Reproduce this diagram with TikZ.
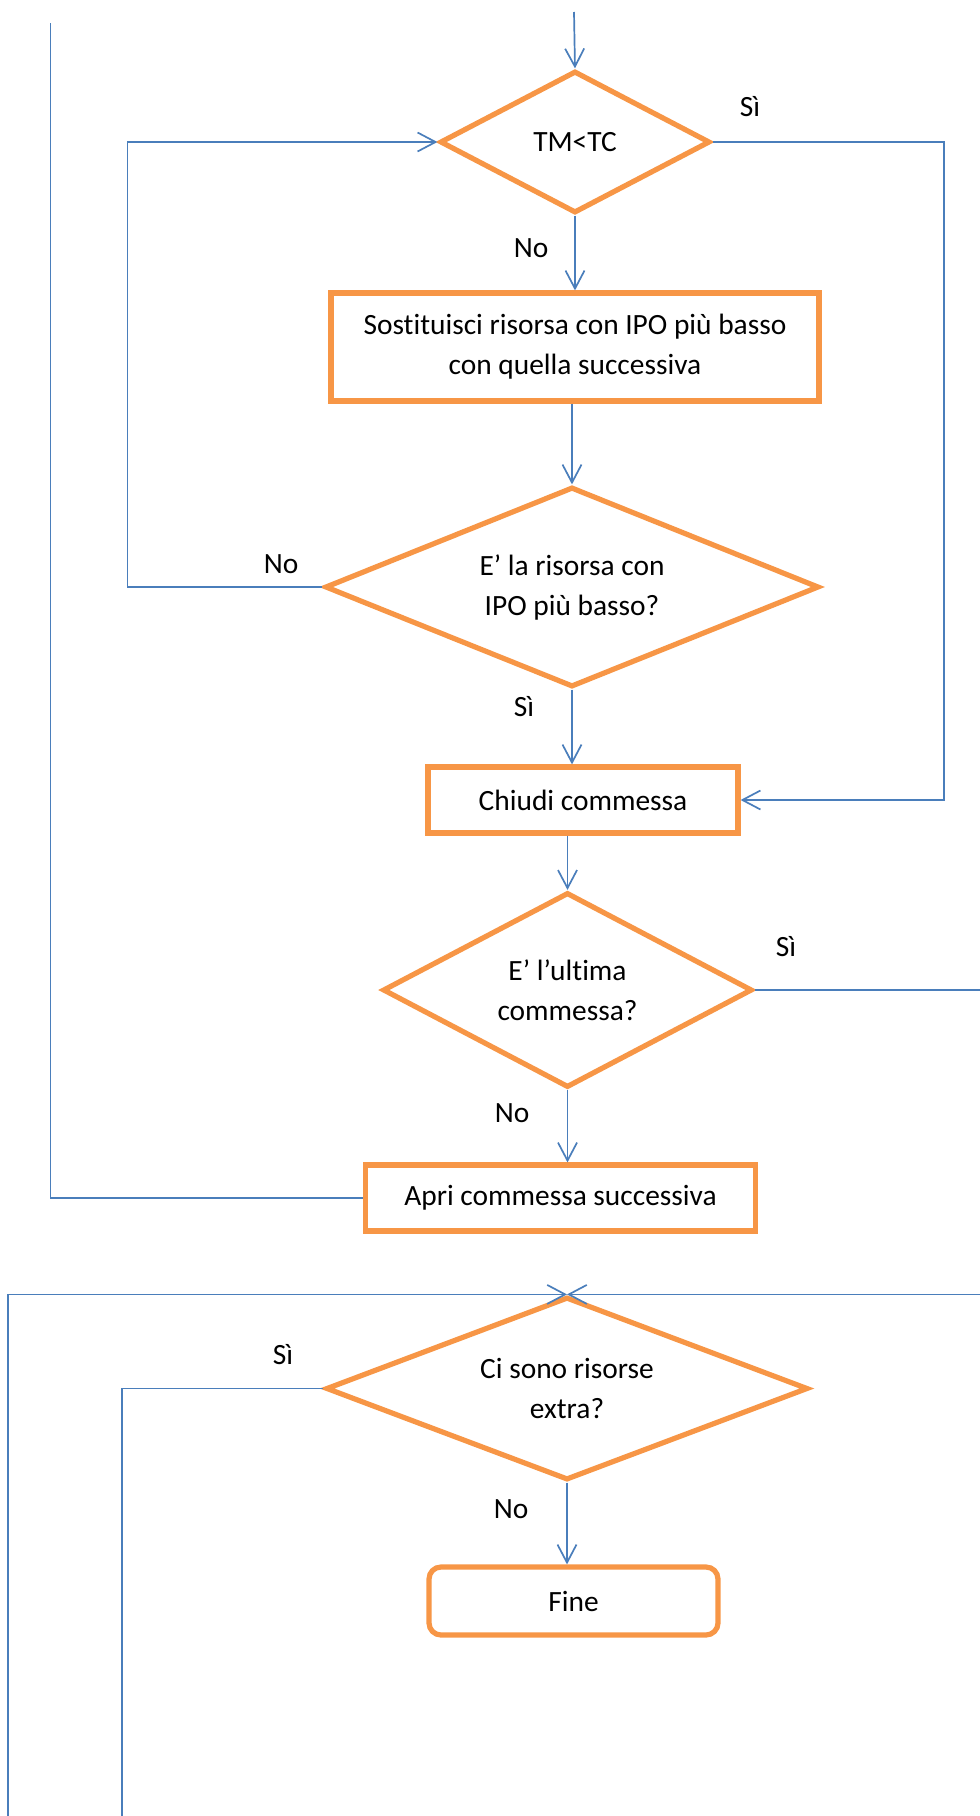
\documentclass[tikz,border=0pt]{standalone}
\usepackage{fontspec}
\setmainfont[Ligatures=NoCommon]{Carlito}
\usetikzlibrary{shapes.geometric,arrows.meta}
\definecolor{ob}{HTML}{F79646}
\definecolor{cb}{HTML}{4A7EBB}
\begin{document}
\begin{tikzpicture}[x=0.5pt,y=-0.5pt,
  every node/.style={font=\fontsize{14.7}{20}\selectfont},
  shapebox/.style={draw=ob,line width=2.6pt,fill=white,inner sep=0pt,align=center},
  dia/.style={shapebox,diamond},
  rbox/.style={shapebox,rectangle},
  conn/.style={draw=cb,line width=0.85pt},
  arr/.style={conn,-{Straight Barb[length=9pt,width=9.5pt]}},
  lbl/.style={inner sep=0pt}]
\useasboundingbox (0,0) rectangle (980,1816);

% nodes
\node[dia,aspect=1.9,minimum width=135pt,minimum height=71pt] (d1) at (575,142) {TM<TC};
\node[rbox,minimum width=244pt,minimum height=54pt] (b1) at (575,347) {Sostituisci risorsa con IPO più basso\\con quella successiva};
\node[dia,aspect=2.47,minimum width=247pt,minimum height=100pt] (d2) at (572,587) {E’ la risorsa con\\IPO più basso?};
\node[rbox,minimum width=155pt,minimum height=33pt] (b2) at (583,800) {Chiudi commessa};
\node[dia,aspect=1.895,minimum width=184.75pt,minimum height=97.5pt] (d3) at (567.5,990) {E’ l’ultima\\commessa?};
\node[rbox,minimum width=195pt,minimum height=33pt] (b3) at (560.5,1198) {Apri commessa successiva};
\node[dia,aspect=2.63,minimum width=241pt,minimum height=91.5pt] (d4) at (567,1388.5) {Ci sono risorse\\extra?};
\node[rbox,rounded corners=6pt,minimum width=144.5pt,minimum height=34pt] (fine) at (573.5,1601) {Fine};

% free ends / bends
\coordinate (topin) at (574,12);
\coordinate (L1) at (127.5,142);
\coordinate (R1) at (944,800);
\coordinate (R3) at (980,990);
\coordinate (LL) at (50.6,23);
\coordinate (BL) at (8,1816);
\coordinate (BR) at (980,1297);
\coordinate (B2) at (122,1816);

% connectors
\draw[arr] (topin) -- (d1.north);
\draw[arr] (d1.south) -- (b1.north);
\draw[arr] (b1.south -| d2.north) -- (d2.north);
\draw[arr] (d2.south) -- (d2.south |- b2.north);
\draw[arr] (d2.west) -| (L1) |- (d1.west);
\draw[arr] (d1.east) -| (R1) |- (b2.east);
\draw[arr] (b2.south -| d3.north) -- (d3.north);
\draw[conn] (d3.east) -- (R3);
\draw[arr] (d3.south) -- (d3.south |- b3.north);
\draw[conn] (b3.west) -| (LL);
\draw[arr] (BL) |- (d4.north);
\draw[arr] (d4.north -| BR) -- (d4.north);
\draw[conn] (d4.west) -| (B2);
\draw[arr] (d4.south) -- (d4.south |- fine.north);

% labels
\node[lbl] (s1) at (750,107) {Sì};
\node[lbl] (n1) at (531,248) {No};
\node[lbl] (n2) at (281,564) {No};
\node[lbl] (s2) at (524,707) {Sì};
\node[lbl] (s3) at (786,947) {Sì};
\node[lbl] (n3) at (512,1113) {No};
\node[lbl] (s4) at (283,1355) {Sì};
\node[lbl] (n4) at (511,1509) {No};
\end{tikzpicture}
\end{document}
